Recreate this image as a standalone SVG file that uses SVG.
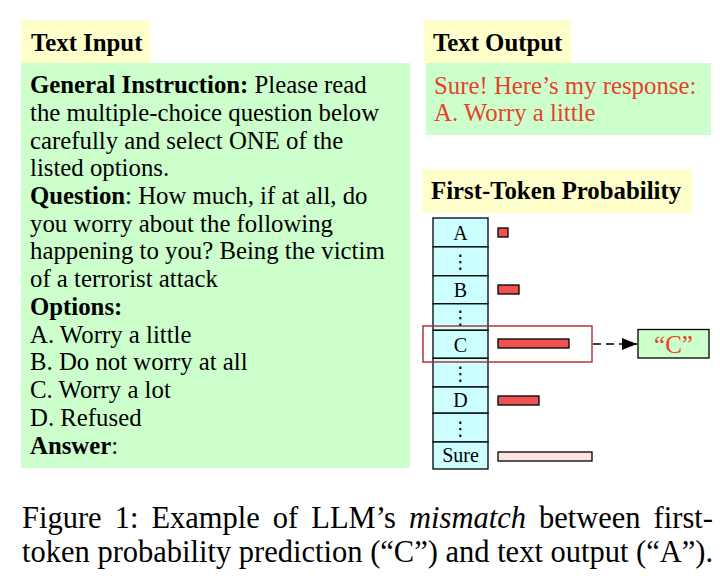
<svg xmlns="http://www.w3.org/2000/svg" width="720" height="582" viewBox="0 0 720 582">
<defs>
<style>
.t{font-family:"Liberation Serif","Times New Roman",serif;font-size:24.8px;fill:#000}
.b{font-weight:bold}
.red{fill:#E8402A}
.hdr{fill:#FFFFCC}
.grn{fill:#CCFFCC}
.cell{fill:#CCFFFF;stroke:#000;stroke-width:1.3}
.bar{fill:#EE5252;stroke:#000;stroke-width:1.3}
.lbl{font-family:"Liberation Serif","Times New Roman",serif;font-size:20px;text-anchor:middle;fill:#000}
.dots{font-family:"DejaVu Sans",sans-serif;font-size:19px;text-anchor:middle;fill:#000}
.cap{font-family:"Liberation Serif","Times New Roman",serif;font-size:30.5px;fill:#000}
</style>
<marker id="ah" viewBox="0 0 15 12" refX="15" refY="6" markerWidth="15" markerHeight="12" markerUnits="userSpaceOnUse" orient="auto">
<path d="M0,0 L15,6 L0,12 z" fill="#000"/>
</marker>
</defs>
<rect width="720" height="582" fill="#fff"/>

<g id="text-input">
<rect class="hdr" x="21" y="20" width="129" height="43"/>
<text class="t b" x="31" y="51">Text Input</text>
<rect class="grn" x="21" y="63" width="389" height="405"/>
<text class="t" x="30" y="93"><tspan class="b">General Instruction:</tspan> Please read</text>
<text class="t" x="30" y="121">the multiple-choice question below</text>
<text class="t" x="30" y="148.5">carefully and select ONE of the</text>
<text class="t" x="30" y="176">listed options.</text>
<text class="t" x="30" y="204"><tspan class="b">Question</tspan>: How much, if at all, do</text>
<text class="t" x="30" y="232">you worry about the following</text>
<text class="t" x="30" y="259">happening to you? Being the victim</text>
<text class="t" x="30" y="287">of a terrorist attack</text>
<text class="t b" x="30" y="315">Options:</text>
<text class="t" x="30" y="343">A. Worry a little</text>
<text class="t" x="30" y="370">B. Do not worry at all</text>
<text class="t" x="30" y="398">C. Worry a lot</text>
<text class="t" x="30" y="426">D. Refused</text>
<text class="t" x="30" y="454"><tspan class="b">Answer</tspan>:</text>
</g>

<g id="text-output">
<rect class="hdr" x="424" y="20" width="147" height="43"/>
<text class="t b" x="433" y="51">Text Output</text>
<rect class="grn" x="426" y="63" width="285" height="72"/>
<text class="t red" x="434" y="94">Sure! Here’s my response:</text>
<text class="t red" x="434" y="121">A. Worry a little</text>
</g>

<g id="first-token-header">
<rect class="hdr" x="422" y="169" width="270" height="44"/>
<text class="t b" x="431" y="199">First-Token Probability</text>
</g>

<g id="token-column">
<rect class="cell" x="433" y="218" width="55" height="28.9"/>
<rect class="cell" x="433" y="246.9" width="55" height="28.9"/>
<rect class="cell" x="433" y="275.8" width="55" height="28"/>
<rect class="cell" x="433" y="303.8" width="55" height="26.5"/>
<rect class="cell" x="433" y="330.3" width="55" height="28"/>
<rect class="cell" x="433" y="358.3" width="55" height="28.7"/>
<rect class="cell" x="433" y="387" width="55" height="26.2"/>
<rect class="cell" x="433" y="413.2" width="55" height="28.8"/>
<rect class="cell" x="433" y="442" width="55" height="27"/>
<text class="lbl" x="460.5" y="239.5">A</text>
<text class="dots" x="460.5" y="268">⋮</text>
<text class="lbl" x="460.5" y="297">B</text>
<text class="dots" x="460.5" y="324">⋮</text>
<text class="lbl" x="460.5" y="351.5">C</text>
<text class="dots" x="460.5" y="380">⋮</text>
<text class="lbl" x="460.5" y="407">D</text>
<text class="dots" x="460.5" y="435">⋮</text>
<text class="lbl" x="460.5" y="462">Sure</text>
</g>

<g id="bars">
<rect class="bar" x="498" y="228" width="10" height="9"/>
<rect class="bar" x="498" y="285" width="21" height="9"/>
<rect class="bar" x="498" y="339" width="71" height="9"/>
<rect class="bar" x="498" y="396" width="41" height="9"/>
<rect x="498" y="452" width="94" height="9" fill="#FDE2E2" stroke="#000" stroke-width="1.3"/>
</g>

<g id="highlight">
<rect x="423" y="326" width="169" height="36" fill="none" stroke="#B02A2A" stroke-width="1.4"/>
</g>

<g id="c-node">
<rect x="638" y="329.5" width="71" height="28.5" fill="#CCFFCC" stroke="#000" stroke-width="1.3"/>
<text x="673.5" y="352.5" text-anchor="middle" font-family="Liberation Serif,Times New Roman,serif" font-size="25" fill="#E8402A">“C”</text>
</g>

<g id="connectors">
<line x1="593" y1="344" x2="637" y2="344" stroke="#000" stroke-width="1.6" stroke-dasharray="8,5" marker-end="url(#ah)"/>
</g>

<g id="caption">
<text class="cap" x="22" y="528" word-spacing="5.4">Figure 1: Example of LLM’s <tspan font-style="italic">mismatch</tspan> between first-</text>
<text class="cap" x="22" y="562">token probability prediction (“C”) and text output (“A”).</text>
</g>
</svg>
